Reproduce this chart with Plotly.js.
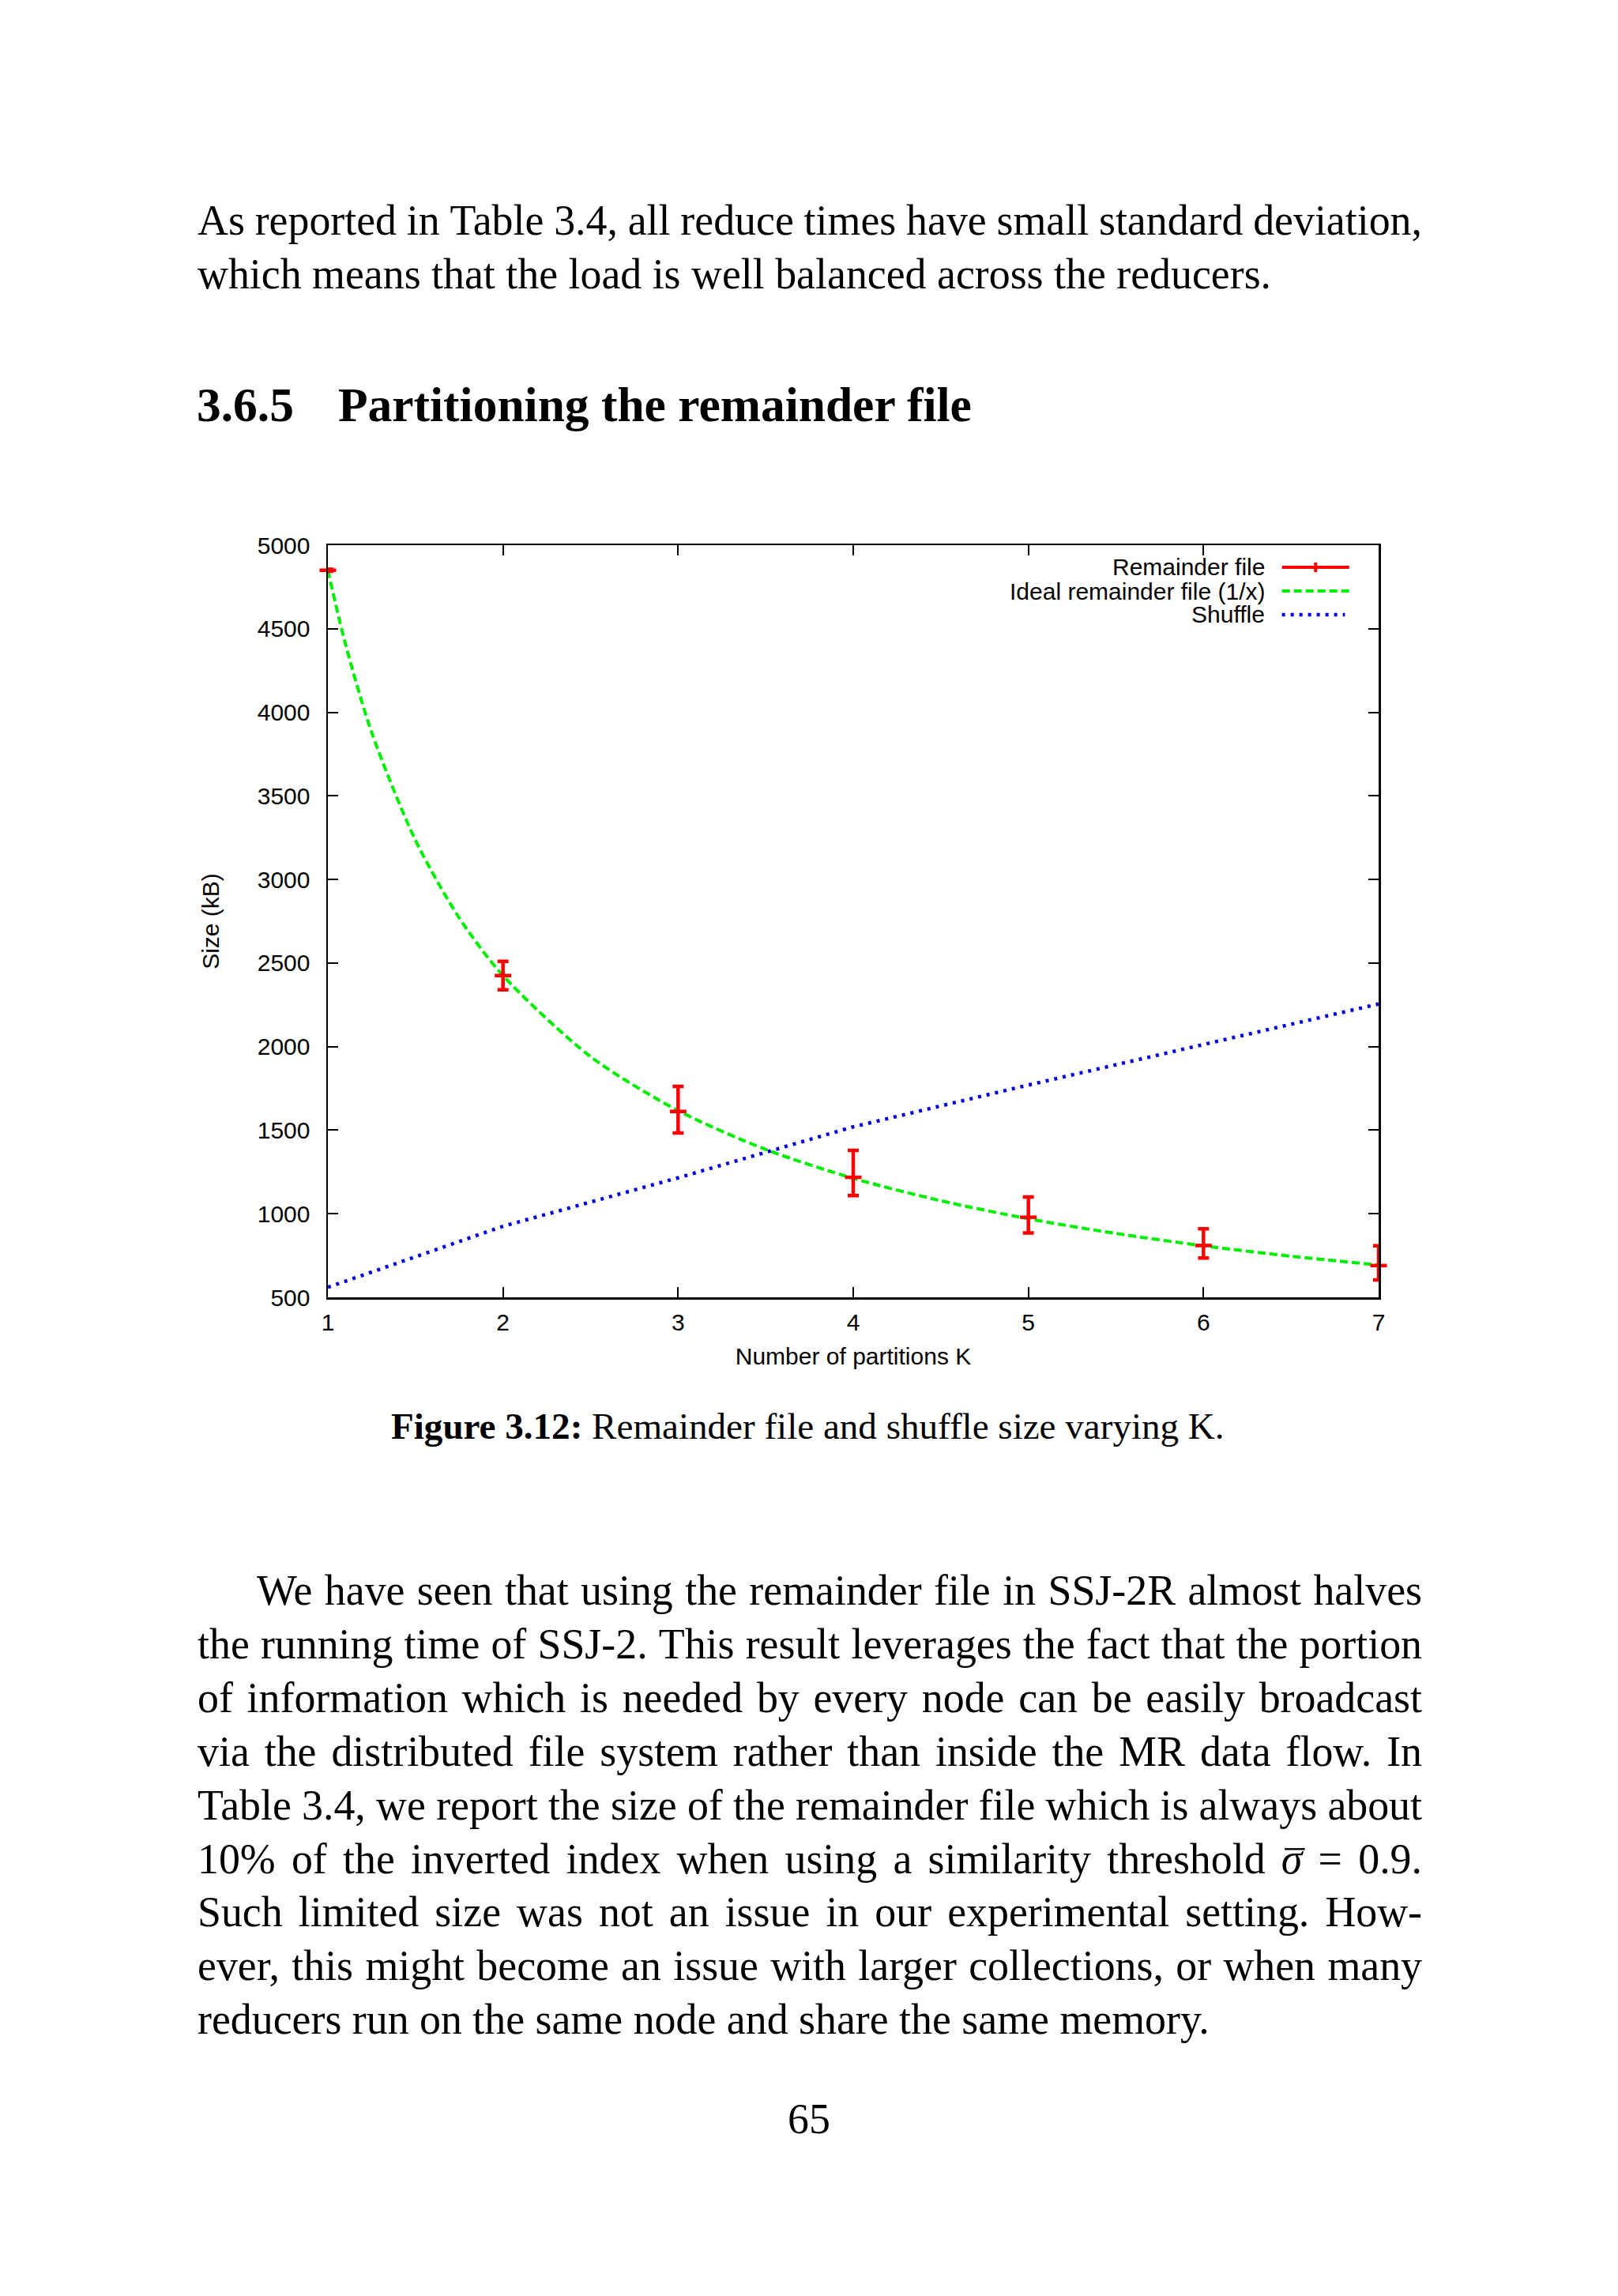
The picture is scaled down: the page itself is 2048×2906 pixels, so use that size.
<!DOCTYPE html>
<html><head><meta charset="utf-8">
<script src="https://cdn.plot.ly/plotly-3.0.1.min.js"></script>
<style>
html,body{margin:0;padding:0;background:#fff;}
#page{position:relative;width:2048px;height:2906px;overflow:hidden;background:#fff;}
#chart{position:absolute;left:0;top:0;width:2048px;height:2906px;}
#txt{position:absolute;left:0;top:0;width:2048px;height:2906px;pointer-events:none;}
#txt text{white-space:pre;}
</style></head><body>
<div id="page"><div id="chart"></div><svg id="txt" xmlns="http://www.w3.org/2000/svg" width="2048" height="2906"></svg></div>
<script>
// ---------------- data ----------------
const partitions = [1, 2, 3, 4, 5, 6, 7];
const remainderSize = [4850, 2425, 1612, 1218, 979, 810, 690];
const remainderErrPlus = [6, 85, 150, 161, 121, 100, 119];
const remainderErrMinus = [6, 85, 129, 110, 94, 75, 86];

const idealK = [1, 1.1, 1.25, 1.5, 1.75, 2, 2.5, 3, 3.5, 4, 4.5, 5, 5.5, 6, 6.5, 7];
const idealSize = [4850, 4410, 3880, 3235, 2770, 2425, 1940, 1617, 1385, 1212, 1078, 970, 882, 808, 746, 693];

const shuffleSize = [560, 925, 1215, 1520, 1770, 2015, 2255];

const xTicks = [1, 2, 3, 4, 5, 6, 7];
const yTicks = [500, 1000, 1500, 2000, 2500, 3000, 3500, 4000, 4500, 5000];

const seriesNames = ['Remainder file', 'Ideal remainder file (1/x)', 'Shuffle'];
const xTitle = 'Number of partitions K';
const yTitle = 'Size (kB)';

// ---------------- chart ----------------
const SANS = "'Liberation Sans', Arial, Helvetica, sans-serif";
const RED = '#ff0000', GREEN = '#00ee00', BLUE = '#0000e6';

const traces = [
  {
    x: idealK, y: idealSize, mode: 'lines', name: seriesNames[1],
    line: {color: GREEN, width: 4, dash: '10px,5px', shape: 'spline', smoothing: 0.8},
    hoverinfo: 'skip', showlegend: false
  },
  {
    x: partitions, y: shuffleSize, mode: 'lines', name: seriesNames[2],
    line: {color: BLUE, width: 4.5, dash: '4px,7px'},
    hoverinfo: 'skip', showlegend: false
  },
  {
    x: partitions, y: remainderSize, mode: 'markers', name: seriesNames[0],
    marker: {symbol: 'line-ew', size: 15, color: RED, line: {color: RED, width: 4.5}},
    error_y: {type: 'data', symmetric: false, array: remainderErrPlus, arrayminus: remainderErrMinus,
              color: RED, thickness: 4.5, width: 7},
    cliponaxis: false, showlegend: false
  }
];

// legend drawn gnuplot-style: right-aligned text, sample to the right
const legendRowsY = [0.9706, 0.939, 0.9076];
const legendTextX = 0.893, legendS0 = 0.908, legendS1 = 0.972;
const annotations = seriesNames.map((n, i) => ({
  xref: 'paper', yref: 'paper', x: legendTextX, y: legendRowsY[i], xanchor: 'right', yanchor: 'middle',
  text: n, showarrow: false, font: {family: SANS, size: 30, color: '#000'}
}));
const shapes = [
  {type: 'line', xref: 'paper', yref: 'paper', x0: legendS0, x1: legendS1, y0: legendRowsY[0], y1: legendRowsY[0],
   line: {color: RED, width: 4}},
  {type: 'line', xref: 'paper', yref: 'paper', x0: (legendS0 + legendS1) / 2, x1: (legendS0 + legendS1) / 2,
   y0: legendRowsY[0] - 0.0065, y1: legendRowsY[0] + 0.0065, line: {color: RED, width: 4}},
  {type: 'line', xref: 'paper', yref: 'paper', x0: legendS0, x1: legendS1, y0: legendRowsY[1], y1: legendRowsY[1],
   line: {color: GREEN, width: 4, dash: '10px,5px'}},
  {type: 'line', xref: 'paper', yref: 'paper', x0: legendS0, x1: legendS1 - 0.004, y0: legendRowsY[2], y1: legendRowsY[2],
   line: {color: BLUE, width: 4.5, dash: '4px,7px'}}
];

const axisCommon = {
  ticks: 'inside', ticklen: 13, tickwidth: 2, tickcolor: '#000',
  showline: true, linewidth: 2.5, linecolor: '#000', mirror: 'ticks',
  showgrid: false, zeroline: false, automargin: false,
  tickfont: {family: SANS, size: 30, color: '#000'}
};

const layout = {
  width: 2048, height: 2906,
  margin: {l: 415, r: 303, t: 690, b: 1264, pad: 0},
  paper_bgcolor: '#ffffff', plot_bgcolor: '#ffffff',
  showlegend: false,
  xaxis: Object.assign({}, axisCommon, {
    range: [1, 7], tickmode: 'array', tickvals: xTicks, ticktext: xTicks.map(String),
    ticklabelstandoff: 3,
    title: {text: xTitle, font: {family: SANS, size: 30, color: '#000'}, standoff: 18}
  }),
  yaxis: Object.assign({}, axisCommon, {
    range: [500, 5000], tickmode: 'array', tickvals: yTicks, ticktext: yTicks.map(String),
    ticklabelstandoff: 14,
    title: {text: yTitle, font: {family: SANS, size: 30, color: '#000'}, standoff: 40}
  }),
  annotations: annotations,
  shapes: shapes
};

Plotly.newPlot('chart', traces, layout, {staticPlot: true, displayModeBar: false});

// ---------------- page text ----------------
const SERIF = "'Liberation Serif', 'Times New Roman', serif";
const NS = 'http://www.w3.org/2000/svg';
const svg = document.getElementById('txt');
const SIGMA = '\u03C3';

function mkText(str, x, y, size, opts) {
  opts = opts || {};
  const t = document.createElementNS(NS, 'text');
  t.setAttribute('x', x); t.setAttribute('y', y);
  t.setAttribute('font-family', SERIF);
  t.setAttribute('font-size', size);
  t.setAttribute('fill', '#000');
  if (opts.bold) t.setAttribute('font-weight', 'bold');
  if (opts.italic) t.setAttribute('font-style', 'italic');
  if (opts.anchor) t.setAttribute('text-anchor', opts.anchor);
  t.textContent = str;
  svg.appendChild(t);
  return t;
}
function measure(str, size, opts) {
  const t = mkText(str, -5000, -5000, size, opts);
  const w = t.getComputedTextLength();
  svg.removeChild(t);
  return w;
}

const para1 = [
  'As reported in Table 3.4, all reduce times have small standard deviation,',
  'which means that the load is well balanced across the reducers.'
];
const headingNum = '3.6.5';
const headingText = 'Partitioning the remainder file';
const captionBold = 'Figure 3.12:';
const captionRest = 'Remainder file and shuffle size varying K.';
const para2 = [
  'We have seen that using the remainder file in SSJ-2R almost halves',
  'the running time of SSJ-2. This result leverages the fact that the portion',
  'of information which is needed by every node can be easily broadcast',
  'via the distributed file system rather than inside the MR data flow. In',
  'Table 3.4, we report the size of the remainder file which is always about',
  '10% of the inverted index when using a similarity threshold ' + SIGMA + ' = 0.9.',
  'Such limited size was not an issue in our experimental setting. How-',
  'ever, this might become an issue with larger collections, or when many',
  'reducers run on the same node and share the same memory.'
];
const pageNumber = '65';

const textLeft = 250, textRight = 1800;

function start() {
  const s1 = 100 * 1354 / measure(para1[1], 100);
  const s2 = 100 * 1286 / measure(para2[8], 100);
  const body = (s1 + s2) / 2;

  function justified(line, x0, x1, y) {
    const words = line.split(' ');
    const ws = words.map(w => measure(w, body, {italic: w === SIGMA}));
    const total = ws.reduce((a, b) => a + b, 0);
    const gap = (x1 - x0 - total) / (words.length - 1);
    let x = x0;
    words.forEach((w, i) => {
      const t = mkText(w, x, y, body, {italic: w === SIGMA});
      if (w === SIGMA) {
        // overline bar above sigma
        const bar = document.createElementNS(NS, 'line');
        const top = y - body * 0.56;
        bar.setAttribute('x1', x + body * 0.08); bar.setAttribute('x2', x + ws[i] + body * 0.06);
        bar.setAttribute('y1', top); bar.setAttribute('y2', top);
        bar.setAttribute('stroke', '#000'); bar.setAttribute('stroke-width', body * 0.045);
        svg.appendChild(bar);
      }
      x += ws[i] + gap;
    });
  }

  // paragraph 1
  justified(para1[0], textLeft, textRight, 297);
  mkText(para1[1], textLeft, 365, body);

  // heading
  const hs = 100 * 802 / measure(headingText, 100, {bold: true});
  mkText(headingNum, 249, 533, hs, {bold: true});
  mkText(headingText, 428, 533, hs, {bold: true});

  // caption
  const sp = measure('a a', 100) - measure('aa', 100);
  const capW = measure(captionBold, 100, {bold: true}) + sp + measure(captionRest, 100);
  const cs = 100 * 1055 / capW;
  const cb = measure(captionBold, cs, {bold: true});
  mkText(captionBold, 495, 1821, cs, {bold: true});
  mkText(captionRest, 495 + cb + sp * cs / 100, 1821, cs);

  // paragraph 2
  const base = 2031, step = 67.9;
  para2.forEach((line, i) => {
    const y = base + i * step;
    if (i === para2.length - 1) {
      mkText(line, textLeft, y, body);
    } else {
      justified(line, i === 0 ? 325 : textLeft, textRight, y);
    }
  });

  // page number
  mkText(pageNumber, 1024, 2700, body, {anchor: 'middle'});
}
if (document.fonts && document.fonts.ready) { document.fonts.ready.then(start); } else { start(); }
</script>
</body></html>
